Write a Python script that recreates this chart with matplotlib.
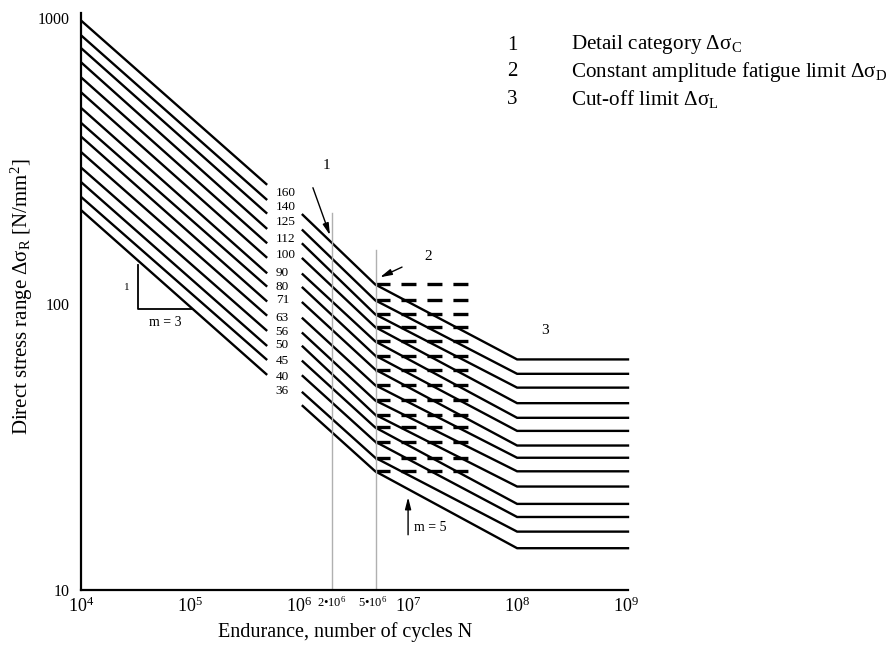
import matplotlib
matplotlib.use('Agg')
import matplotlib.pyplot as plt
from matplotlib.ticker import FixedLocator, FixedFormatter

plt.rcParams['font.family'] = ['Liberation Serif', 'DejaVu Serif']
plt.rcParams['mathtext.fontset'] = 'custom'
plt.rcParams['mathtext.rm'] = 'Liberation Serif'
plt.rcParams['mathtext.it'] = 'Liberation Serif:italic'
plt.rcParams['lines.scale_dashes'] = False

# detail categories (N/mm2) and stress ranges
categories = [160, 140, 125, 112, 100, 90, 80, 71, 63, 56, 50, 45, 40, 36]
sr_left_start = [980, 870, 785, 700, 620, 550, 485, 430, 385, 340, 300, 267, 237, 213]
sr_left_end = [261, 231, 207, 183, 163, 145, 128, 115, 102, 91, 80.5, 71.3, 63.7, 56.5]
sr_right_start = [205, 181, 162, 144, 127, 114, 101, 89, 79, 71, 63, 56, 49, 44]
sigma_D = [117, 103, 92, 83, 74, 66, 59, 52, 46, 41, 37, 33, 29, 26]
sigma_L = [64, 57, 51, 45, 40, 36, 32, 29, 26, 23, 20, 18, 16, 14]

N_left = [1e4, 5.1e5]
N_right = [1.08e6, 5e6, 1e8, 1.04e9]
N_dash_end = 4e7

x_ticks = [1e4, 1e5, 1e6, 1e7, 1e8, 1e9]
x_tick_labels = [r'$10^{4}$', r'$10^{5}$', r'$10^{6}$', r'$10^{7}$', r'$10^{8}$', r'$10^{9}$']
y_ticks = [10, 100, 1000]
y_tick_labels = ['10', '100', '1000']

legend_items = [
    ('1', r'Detail category Δσ$_\mathrm{C}$'),
    ('2', r'Constant amplitude fatigue limit Δσ$_\mathrm{D}$'),
    ('3', r'Cut-off limit Δσ$_\mathrm{L}$'),
]

# label drop below line end, in pixels
label_drop = [8, 7, 8, 10, 12, 15, 14, 13, 16, 16, 14, 15, 17, 16]


def main():
    W, H = 891, 666
    fig = plt.figure(figsize=(W / 100, H / 100), dpi=100)
    ax = fig.add_axes([81 / W, 76 / H, 547 / W, 577 / H])
    ax.set_xscale('log')
    ax.set_yscale('log')
    ax.set_xlim(1e4, 1.04e9)
    ax.set_ylim(10, 1041)

    lw = 1.7
    for i, cat in enumerate(categories):
        ax.plot(N_left, [sr_left_start[i], sr_left_end[i]], color='black', lw=lw,
                solid_capstyle='butt', clip_on=False)
        ax.plot(N_right, [sr_right_start[i], sigma_D[i], sigma_L[i], sigma_L[i]],
                color='black', lw=lw, solid_joinstyle='miter', clip_on=False)
        ax.plot([N_right[1], N_dash_end], [sigma_D[i], sigma_D[i]], color='black',
                lw=2.4, linestyle=(0, (10.8, 7.9)), dash_capstyle='butt')
        ax.annotate(str(cat), xy=(6.1e5, sr_left_end[i]),
                    xytext=(0, -label_drop[i] * 0.72), textcoords='offset points',
                    ha='left', va='center', fontsize=9.5)

    # reference lines at 2e6 and 5e6
    ax.plot([2e6, 2e6], [10, 208], color='#b0b0b0', lw=1)
    ax.plot([5.1e6, 5.1e6], [10, 155], color='#b0b0b0', lw=1)
    ax.annotate('2•10$^6$', xy=(2e6, 10), xytext=(0, -8.5), textcoords='offset points',
                ha='center', va='center', fontsize=9)
    ax.annotate('5•10$^6$', xy=(4.7e6, 10), xytext=(0, -8.5), textcoords='offset points',
                ha='center', va='center', fontsize=9)

    # slope triangle m = 3
    ax.plot([3.3e4, 3.3e4, 1.04e5], [137, 96, 96], color='black', lw=1.3)
    ax.text(2.64e4, 114, '1', fontsize=8, ha='center', va='center')
    ax.text(5.9e4, 86.5, 'm = 3', fontsize=10, ha='center', va='center')

    # annotations 1, 2, 3 and m = 5
    arrow = dict(arrowstyle='-|>,head_length=0.7,head_width=0.18', color='black',
                 lw=1, shrinkA=0, shrinkB=0)
    ax.text(1.77e6, 306, '1', fontsize=11, ha='center', va='center')
    ax.annotate('', xy=(1.92e6, 174), xytext=(1.34e6, 255), arrowprops=arrow)
    ax.text(1.52e7, 146, '2', fontsize=11, ha='center', va='center')
    ax.annotate('', xy=(5.53e6, 124), xytext=(8.8e6, 134.6), arrowprops=arrow)
    ax.text(1.81e8, 81, '3', fontsize=11, ha='center', va='center')
    ax.annotate('', xy=(1e7, 21.1), xytext=(1e7, 15.6), arrowprops=arrow)
    ax.text(1.59e7, 16.5, 'm = 5', fontsize=10, ha='center', va='center')

    for side in ('top', 'right'):
        ax.spines[side].set_visible(False)
    for side in ('left', 'bottom'):
        ax.spines[side].set_linewidth(1.6)

    ax.xaxis.set_major_locator(FixedLocator(x_ticks))
    ax.xaxis.set_major_formatter(FixedFormatter(x_tick_labels))
    ax.xaxis.set_minor_locator(FixedLocator([]))
    ax.yaxis.set_major_locator(FixedLocator(y_ticks))
    ax.yaxis.set_major_formatter(FixedFormatter(y_tick_labels))
    ax.yaxis.set_minor_locator(FixedLocator([]))
    ax.tick_params(axis='x', length=0, pad=5, labelsize=13)
    ax.tick_params(axis='y', length=0, pad=8, labelsize=11.5)

    fig.text(22 / W, 1 - 297 / H, r'Direct stress range Δσ$_\mathrm{R}$ [N/mm$^2$]',
             rotation=90, ha='center', va='center', fontsize=15)
    fig.text(345 / W, 1 - 632 / H, 'Endurance, number of cycles N',
             ha='center', va='center', fontsize=14.5)

    for k, (num, txt) in enumerate(legend_items):
        y = 1 - (45 + 27 * k) / H
        fig.text(512 / W, y, num, ha='center', va='center', fontsize=15)
        fig.text(571 / W, y, txt, ha='left', va='center', fontsize=15.2)

    fig.savefig('out.png', dpi=100)


if __name__ == '__main__':
    main()
